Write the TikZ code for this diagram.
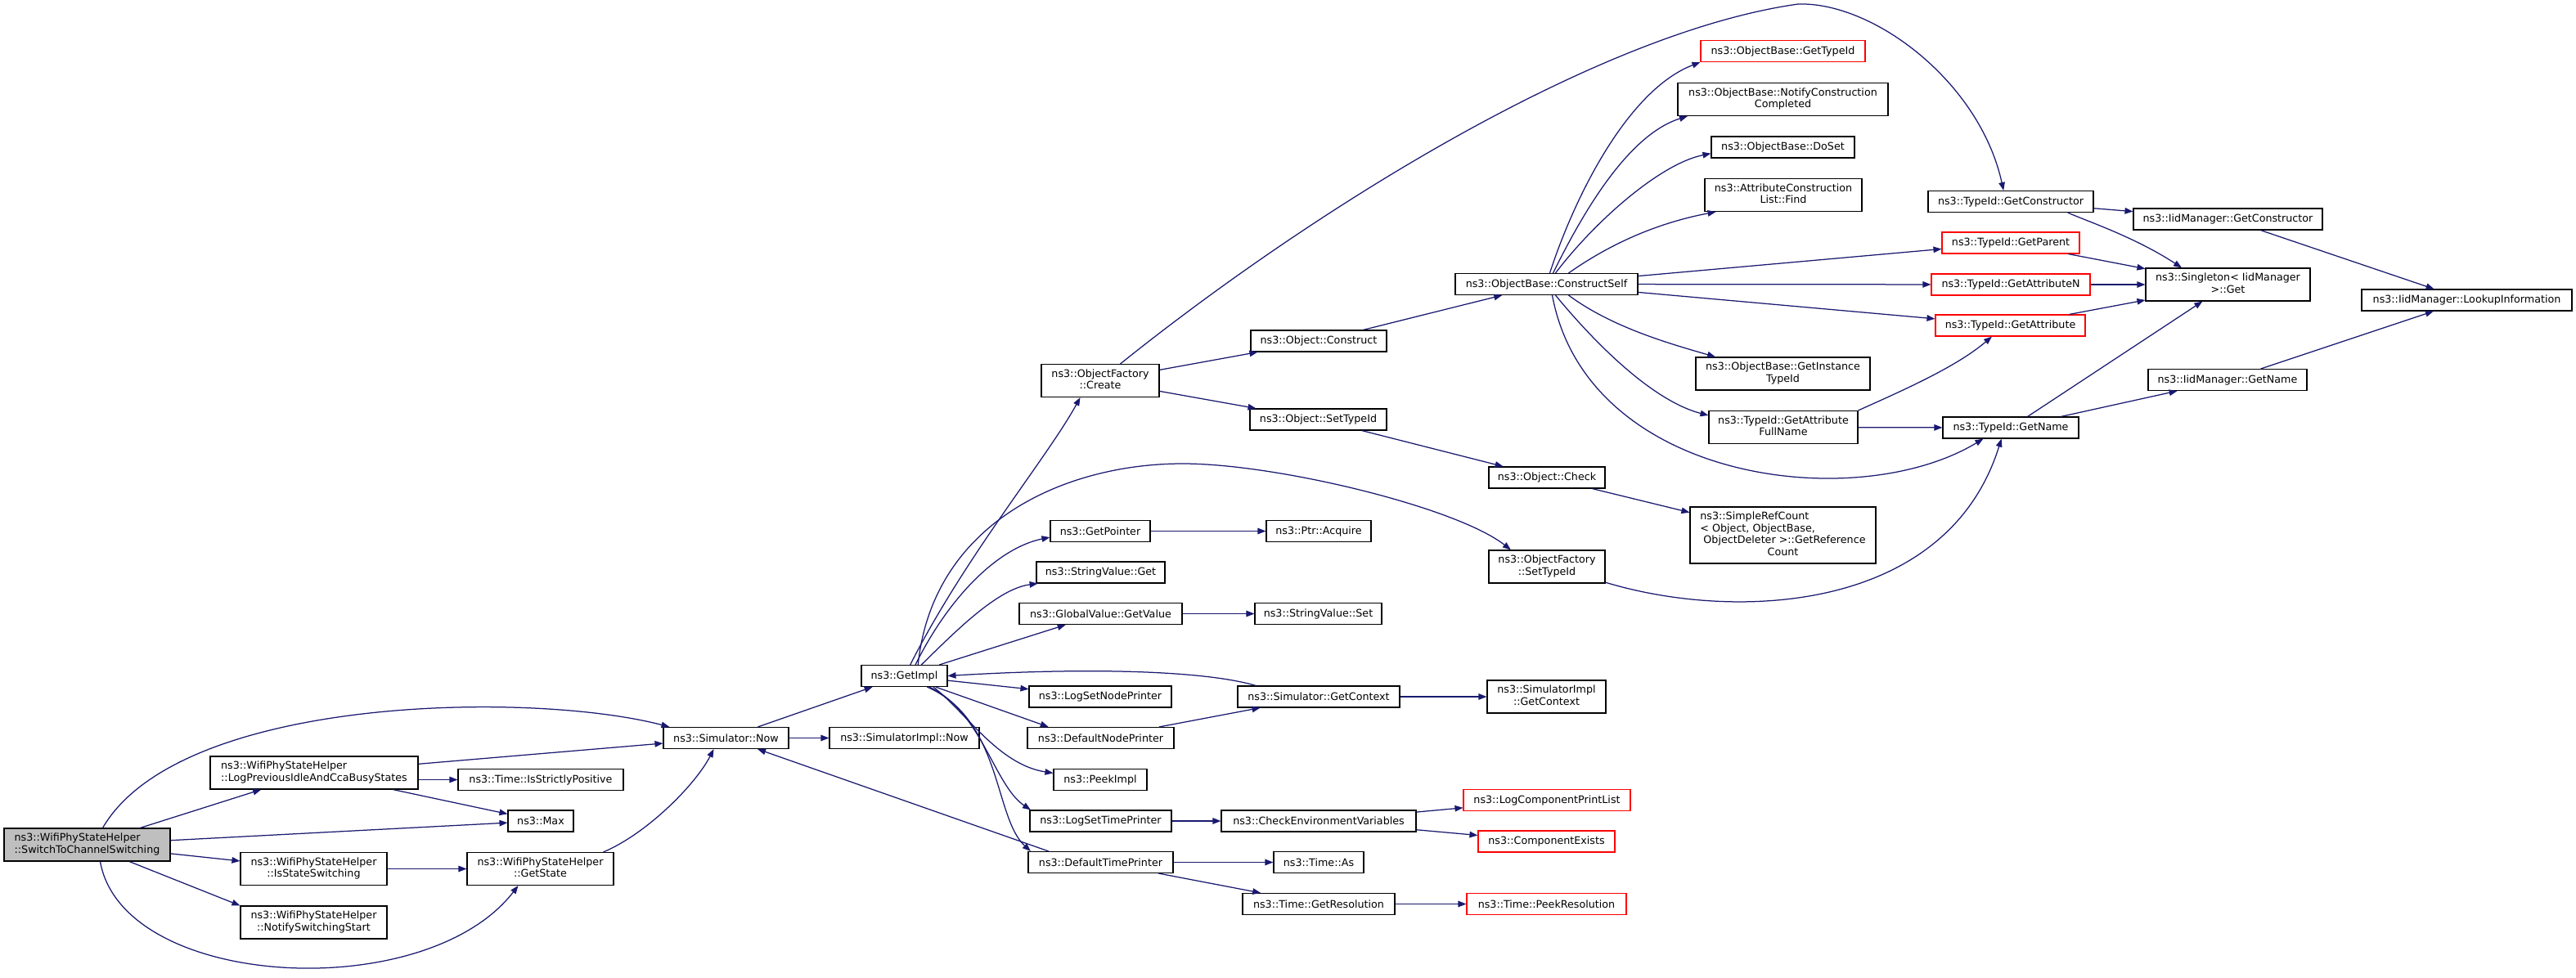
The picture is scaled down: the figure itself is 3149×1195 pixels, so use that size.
\documentclass[tikz,border=0pt]{standalone}
\usepackage{fontspec}
\setmainfont{DejaVu Sans}
\usetikzlibrary{arrows.meta}

\definecolor{edgeblue}{HTML}{191970}
\definecolor{rootgray}{HTML}{BFBFBF}
\newcommand{\fnfont}{\fontsize{12.7}{14.5}\selectfont}
% all lines but the last flush left, the last one centred
\newcommand{\fnlines}[2]{\begin{tabular}{@{}l@{}}#1\\\multicolumn{1}{@{}c@{}}{#2}\end{tabular}}

\begin{document}
\begin{tikzpicture}[
    x=1pt,y=-1pt,
    fn/.style={
      draw=black,line width=1.1pt,fill=white,rectangle,
      inner sep=0pt,font=\fnfont,align=center
    },
    fnred/.style={fn,draw=red},
    fnroot/.style={fn,fill=rootgray},
    box/.style 2 args={minimum width=#1pt,minimum height=#2pt},
    call/.style={
      draw=edgeblue,line width=1.25pt,
      -{Triangle[length=10pt,width=7.5pt]}
    }]
      \path[use as bounding box,fill=white] (0,0) rectangle (3149,1195);

      % caller side
      \node[fnroot,box={203}{40}] (switch) at (106.5,1033) {\fnlines{ns3::WifiPhyStateHelper}{::SwitchToChannelSwitching}};
      \node[fn,box={254}{40}] (logprev) at (384,945) {\fnlines{ns3::WifiPhyStateHelper}{::LogPreviousIdleAndCcaBusyStates}};
      \node[fn,box={202}{26}] (strictpos) at (661,953.5) {ns3::Time::IsStrictlyPositive};
      \node[fn,box={80}{26}] (max) at (661,1004) {ns3::Max};
      \node[fn,box={179}{40}] (isswitch) at (383.5,1062.5) {\fnlines{ns3::WifiPhyStateHelper}{::IsStateSwitching}};
      \node[fn,box={179}{40}] (getstate) at (660.5,1062.5) {\fnlines{ns3::WifiPhyStateHelper}{::GetState}};
      \node[fn,box={179}{40}] (notify) at (383.5,1128) {\fnlines{ns3::WifiPhyStateHelper}{::NotifySwitchingStart}};
      \node[fn,box={153}{26}] (simnow) at (887.5,902.5) {ns3::Simulator::Now};
      \node[fn,box={183}{26}] (simimplnow) at (1105.5,902.5) {ns3::SimulatorImpl::Now};
      \node[fn,box={105}{26}] (getimpl) at (1105.5,826.5) {ns3::GetImpl};

      % column of GetImpl callees
      \node[fn,box={144}{40}] (create) at (1345,465.5) {\fnlines{ns3::ObjectFactory}{::Create}};
      \node[fn,box={122}{26}] (getpointer) at (1345,649.5) {ns3::GetPointer};
      \node[fn,box={157}{26}] (svget) at (1345.5,700) {ns3::StringValue::Get};
      \node[fn,box={199}{26}] (gvgetvalue) at (1345.5,750.5) {ns3::GlobalValue::GetValue};
      \node[fn,box={174}{26}] (logsetnode) at (1345,852) {ns3::LogSetNodePrinter};
      \node[fn,box={179}{26}] (defnode) at (1345.5,902.5) {ns3::DefaultNodePrinter};
      \node[fn,box={114}{26}] (peekimpl) at (1345,953.5) {ns3::PeekImpl};
      \node[fn,box={173}{26}] (logsettime) at (1345.5,1004) {ns3::LogSetTimePrinter};
      \node[fn,box={177}{26}] (deftime) at (1345.5,1054.5) {ns3::DefaultTimePrinter};

      \node[fn,box={166}{26}] (construct) at (1612,417) {ns3::Object::Construct};
      \node[fn,box={167}{26}] (objsettypeid) at (1611.5,513) {ns3::Object::SetTypeId};
      \node[fn,box={128}{26}] (acquire) at (1612,649.5) {ns3::Ptr::Acquire};
      \node[fn,box={155}{26}] (svset) at (1611.5,750.5) {ns3::StringValue::Set};
      \node[fn,box={198}{26}] (getcontext) at (1612,852) {ns3::Simulator::GetContext};
      \node[fn,box={238}{26}] (checkenv) at (1612,1004) {ns3::CheckEnvironmentVariables};
      \node[fn,box={110}{26}] (timeas) at (1612,1054.5) {ns3::Time::As};
      \node[fn,box={186}{26}] (getres) at (1612,1105.5) {ns3::Time::GetResolution};

      \node[fn,box={223}{26}] (constructself) at (1890.5,347.5) {ns3::ObjectBase::ConstructSelf};
      \node[fn,box={142}{26}] (check) at (1891,584) {ns3::Object::Check};
      \node[fn,box={142}{40}] (facsettypeid) at (1891,693) {\fnlines{ns3::ObjectFactory}{::SetTypeId}};
      \node[fn,box={145}{40}] (implgetcontext) at (1890.5,852) {\fnlines{ns3::SimulatorImpl}{::GetContext}};
      \node[fnred,box={204}{26}] (logcomp) at (1891,978.5) {ns3::LogComponentPrintList};
      \node[fnred,box={167}{26}] (compexists) at (1890.5,1029) {ns3::ComponentExists};
      \node[fnred,box={195}{26}] (peekres) at (1890.5,1105.5) {ns3::Time::PeekResolution};

      % ConstructSelf callees
      \node[fnred,box={201}{26}] (obgettypeid) at (2179.5,62.5) {ns3::ObjectBase::GetTypeId};
      \node[fn,box={257}{40}] (notifycc) at (2179.5,121.5) {\fnlines{ns3::ObjectBase::NotifyConstruction}{Completed}};
      \node[fn,box={175}{26}] (doset) at (2179.5,180) {ns3::ObjectBase::DoSet};
      \node[fn,box={192}{40}] (acfind) at (2180,238.5) {\fnlines{ns3::AttributeConstruction}{List::Find}};
      \node[fn,box={213}{40}] (instancetypeid) at (2179.5,457) {\fnlines{ns3::ObjectBase::GetInstance}{TypeId}};
      \node[fn,box={182}{40}] (attrfullname) at (2180,522.5) {\fnlines{ns3::TypeId::GetAttribute}{FullName}};
      \node[fn,box={227}{69}] (refcount) at (2179.5,654.5) {\begin{tabular}{@{}l@{}}ns3::SimpleRefCount\\< Object, ObjectBase,\\\ ObjectDeleter >::GetReference\\\multicolumn{1}{@{}c@{}}{Count}\end{tabular}};

      \node[fn,box={202}{26}] (getconstructor) at (2458,246.5) {ns3::TypeId::GetConstructor};
      \node[fnred,box={168}{26}] (getparent) at (2458,297) {ns3::TypeId::GetParent};
      \node[fnred,box={194}{26}] (getattrn) at (2458,348) {ns3::TypeId::GetAttributeN};
      \node[fnred,box={183}{26}] (getattr) at (2457.5,398) {ns3::TypeId::GetAttribute};
      \node[fn,box={166}{26}] (getname) at (2458,523) {ns3::TypeId::GetName};
      \node[fn,box={231}{26}] (iidgetconstructor) at (2723.5,268) {ns3::IidManager::GetConstructor};
      \node[fn,box={201}{40}] (singleton) at (2723.5,348) {\fnlines{ns3::Singleton< IidManager}{>::Get}};
      \node[fn,box={194}{26}] (iidgetname) at (2723,464.5) {ns3::IidManager::GetName};
      \node[fn,box={257}{26}] (lookup) at (3015.5,367) {ns3::IidManager::LookupInformation};

      % calls
      \draw[call] (switch) -- (logprev);
      \draw[call] (switch) -- (max);
      \draw[call] (switch) -- (isswitch);
      \draw[call] (switch) -- (notify.north west);
      \draw[call] ([xshift=19pt]switch.north) .. controls (220,850) and (650,845) .. ([xshift=8pt]simnow.north west);
      \draw[call] ([xshift=16pt]switch.south) .. controls (150,1210) and (520,1230) .. ([xshift=-27pt]getstate.south);
      \draw[call] (logprev) -- (simnow);
      \draw[call] (logprev.east |- strictpos) -- (strictpos);
      \draw[call] (logprev) -- (max);
      \draw[call] (isswitch) -- (getstate);
      \draw[call] ([xshift=-13pt]getstate.north east) .. controls (790,1020) and (850,960) .. ([xshift=-15pt]simnow.south);
      \draw[call] (simnow) -- (simimplnow);
      \draw[call] (simnow) -- (getimpl);
      \draw[call] (deftime.168) -- (simnow);

      \draw[call] (getimpl.62) .. controls (1180,680) and (1280,560) .. (create.-140);
      \draw[call] (getimpl.39) .. controls (1140,640) and (1300,567) .. (1446,567)
        .. controls (1560,567) and (1780,620) .. (facsettypeid.155);
      \draw[call] (getimpl.45) .. controls (1160,730) and (1220,670) .. (getpointer.187);
      \draw[call] (getimpl.33) .. controls (1170,770) and (1220,720) .. (svget.190);
      \draw[call] (getimpl) -- (gvgetvalue);
      \draw[call] (getimpl) -- (logsetnode);
      \draw[call] (getimpl) -- (defnode.168);
      \draw[call] (getimpl.-21) .. controls (1180,870) and (1220,935) .. (peekimpl.172);
      \draw[call] (getimpl.-24) .. controls (1200,870) and (1215,960) .. (logsettime.171);
      \draw[call] (getimpl.-26) .. controls (1225,880) and (1215,1000) .. (deftime.171);
      \draw[call] (getcontext.170) .. controls (1480,822) and (1350,815) .. (getimpl.east);
      \draw[call] (defnode) -- (getcontext);
      \draw[call] (getpointer) -- (acquire);
      \draw[call] (gvgetvalue) -- (svset);
      \draw[call] (getcontext) -- (implgetcontext);
      \draw[call] (logsettime) -- (checkenv);
      \draw[call] (checkenv) -- (logcomp);
      \draw[call] (checkenv) -- (compexists);
      \draw[call] (deftime) -- (timeas);
      \draw[call] (deftime) -- (getres);
      \draw[call] (getres) -- (peekres);

      \draw[call] (create) -- (construct);
      \draw[call] (create) -- (objsettypeid);
      \draw[call] (create.40) .. controls (1600,260) and (1950,40) .. (2198,5)
        .. controls (2290,2) and (2420,100) .. (getconstructor.123);
      \draw[call] (construct) -- (constructself);
      \draw[call] (objsettypeid) -- (check);
      \draw[call] (check) -- (refcount);
      \draw[call] (facsettypeid.-15) .. controls (2120,760) and (2380,750) .. (getname.-130);

      \draw[call] ([xshift=4pt]constructself.north) .. controls (1925,240) and (1990,110) .. (obgettypeid.south west);
      \draw[call] ([xshift=8pt]constructself.north) .. controls (1935,260) and (1990,165) .. (notifycc.190);
      \draw[call] ([xshift=11pt]constructself.north) .. controls (1950,270) and (2030,200) .. (doset.185);
      \draw[call] ([xshift=27pt]constructself.north) .. controls (1980,290) and (2040,270) .. (acfind.194);
      \draw[call] (constructself) -- (getparent);
      \draw[call] (constructself) -- (getattrn);
      \draw[call] (constructself) -- (getattr);
      \draw[call] ([xshift=27pt]constructself.south) .. controls (1970,400) and (2040,420) .. (instancetypeid.166);
      \draw[call] ([xshift=11pt]constructself.south) .. controls (1950,420) and (2020,490) .. (attrfullname.171);
      \draw[call] ([xshift=7pt]constructself.south) .. controls (1940,590) and (2270,630) .. (getname.202);

      \draw[call] (getconstructor) -- (iidgetconstructor);
      \draw[call] (getconstructor.-11) .. controls (2550,270) and (2610,290) .. (singleton.160);
      \draw[call] (getparent) -- (singleton);
      \draw[call] (getattrn) -- (singleton);
      \draw[call] (getattr) -- (singleton);
      \draw[call] (iidgetconstructor) -- (lookup);
      \draw[call] (iidgetname) -- (lookup);
      \draw[call] (getname) -- (iidgetname);
      \draw[call] (getname) -- (singleton);
      \draw[call] (attrfullname.north east) .. controls (2320,480) and (2390,450) .. (getattr.211);
      \draw[call] (attrfullname) -- (getname);
  \end{tikzpicture}
\end{document}
